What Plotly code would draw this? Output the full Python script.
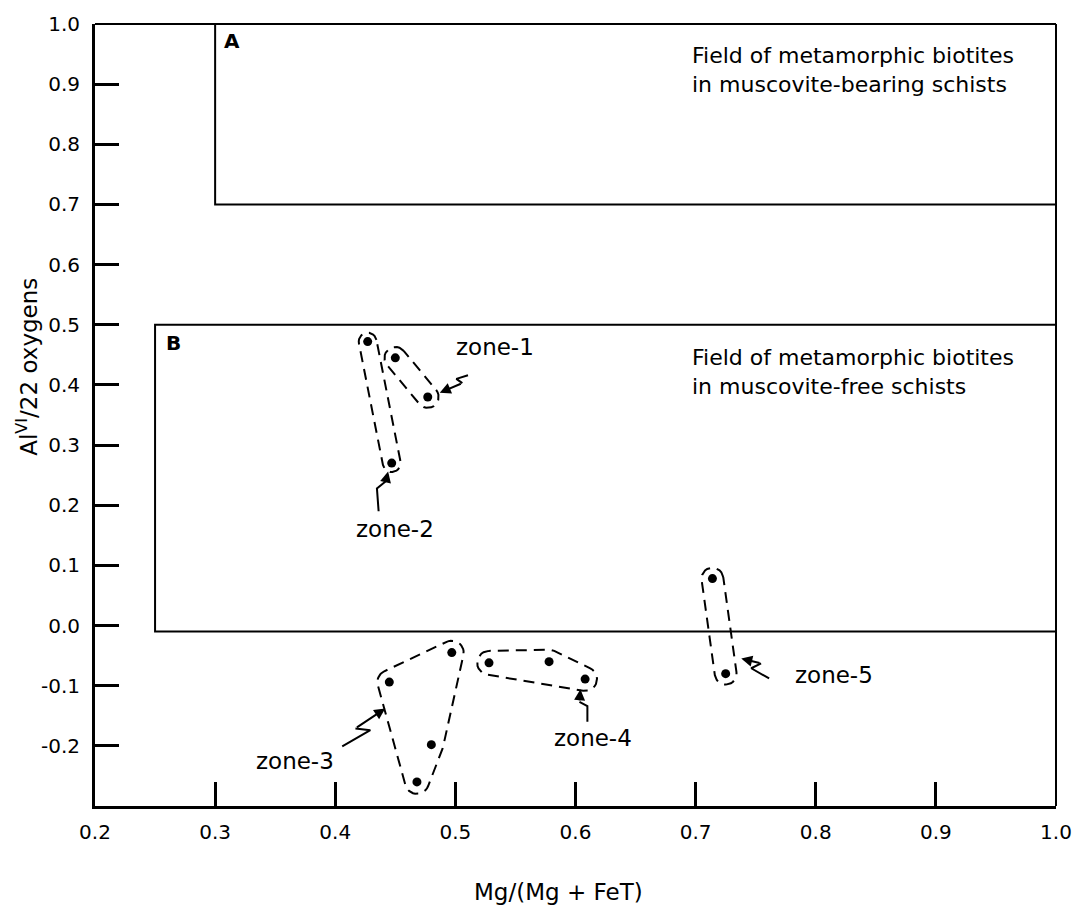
import numpy as np
import plotly.graph_objects as go

# ---------------- data ----------------
zone1_x = [0.450, 0.477]
zone1_y = [0.445, 0.380]
zone2_x = [0.427, 0.447]
zone2_y = [0.472, 0.270]
zone3_x = [0.445, 0.497, 0.480, 0.468]
zone3_y = [-0.094, -0.045, -0.198, -0.260]
zone4_x = [0.528, 0.578, 0.608]
zone4_y = [-0.062, -0.060, -0.089]
zone5_x = [0.714, 0.725]
zone5_y = [0.078, -0.080]

zone_names = ["zone-1", "zone-2", "zone-3", "zone-4", "zone-5"]

x_ticks = [0.2, 0.3, 0.4, 0.5, 0.6, 0.7, 0.8, 0.9, 1.0]
x_tick_labels = ["0.2", "0.3", "0.4", "0.5", "0.6", "0.7", "0.8", "0.9", "1.0"]
y_ticks = [-0.2, -0.1, 0.0, 0.1, 0.2, 0.3, 0.4, 0.5, 0.6, 0.7, 0.8, 0.9, 1.0]
y_tick_labels = ["-0.2", "-0.1", "0.0", "0.1", "0.2", "0.3", "0.4", "0.5",
                 "0.6", "0.7", "0.8", "0.9", "1.0"]

# fields (x0, x1, y0, y1)
field_A = (0.3, 1.0, 0.7, 1.0)
field_B = (0.25, 1.0, -0.01, 0.5)
field_A_text = "Field of metamorphic biotites<br>in muscovite-bearing schists"
field_B_text = "Field of metamorphic biotites<br>in muscovite-free schists"

# ---------------- layout constants ----------------
W, H = 1084, 906
ML, MR, MT, MB = 95, 20, 20, 100
XR = (0.2, 1.0)
YR = (-0.3, 1.0)
PW, PH = W - ML - MR, H - MT - MB
FONT = "DejaVu Sans"

def to_px(x, y):
    px = ML + (np.asarray(x) - XR[0]) / (XR[1] - XR[0]) * PW
    py = MT + (YR[1] - np.asarray(y)) / (YR[1] - YR[0]) * PH
    return px, py

def to_data(px, py):
    x = XR[0] + (np.asarray(px) - ML) / PW * (XR[1] - XR[0])
    y = YR[1] - (np.asarray(py) - MT) / PH * (YR[1] - YR[0])
    return x, y

def hull(pts):
    pts = sorted(map(tuple, pts))
    if len(pts) <= 2:
        return pts
    def cross(o, a, b):
        return (a[0]-o[0])*(b[1]-o[1]) - (a[1]-o[1])*(b[0]-o[0])
    lower, upper = [], []
    for p in pts:
        while len(lower) >= 2 and cross(lower[-2], lower[-1], p) <= 0:
            lower.pop()
        lower.append(p)
    for p in reversed(pts):
        while len(upper) >= 2 and cross(upper[-2], upper[-1], p) <= 0:
            upper.pop()
        upper.append(p)
    return lower[:-1] + upper[:-1]

def envelope(xs, ys, r):
    px, py = to_px(xs, ys)
    pts = list(zip(px, -py))          # y up for CCW orientation
    hv = hull(pts)
    n = len(hv)
    ox, oy = [], []
    for i in range(n):
        v = np.array(hv[i]); vp = np.array(hv[i-1]); vn = np.array(hv[(i+1) % n])
        dp = v - vp; dn = vn - v
        a1 = np.arctan2(-dp[0], dp[1])
        a2 = np.arctan2(-dn[0], dn[1])
        delta = (a2 - a1) % (2*np.pi)
        for t in np.linspace(0, delta, 14):
            ox.append(v[0] + r*np.cos(a1 + t))
            oy.append(v[1] + r*np.sin(a1 + t))
    ox.append(ox[0]); oy.append(oy[0])
    return to_data(np.array(ox), -np.array(oy))

fig = go.Figure()

# field boxes
for (x0, x1, y0, y1) in (field_A, field_B):
    fig.add_shape(type="rect", x0=x0, x1=x1, y0=y0, y1=y1, xref="x", yref="y",
                  line=dict(color="black", width=2), fillcolor="rgba(0,0,0,0)")

# thinner top / right frame lines
fig.add_shape(type="line", xref="paper", yref="paper", x0=0, x1=1, y0=1, y1=1,
              line=dict(color="black", width=2))
fig.add_shape(type="line", xref="paper", yref="paper", x0=1, x1=1, y0=0, y1=1,
              line=dict(color="black", width=2))

zones = [(zone1_x, zone1_y, 11), (zone2_x, zone2_y, 9), (zone3_x, zone3_y, 12),
         (zone4_x, zone4_y, 12), (zone5_x, zone5_y, 11)]

for (zx, zy, r), name in zip(zones, zone_names):
    ex, ey = envelope(zx, zy, r)
    fig.add_trace(go.Scatter(x=ex, y=ey, mode="lines", hoverinfo="skip",
                             line=dict(color="black", width=2, dash="11px,7px"),
                             showlegend=False))
    fig.add_trace(go.Scatter(x=zx, y=zy, mode="markers", name=name,
                             marker=dict(color="black", size=9), showlegend=False))

# lightning arrows: tail, kink A, kink B, head
arrows = [
    [(0.5105, 0.416), (0.5008, 0.410), (0.5058, 0.403), (0.4870, 0.387)],
    [(0.4361, 0.190), (0.4347, 0.228), (0.4421, 0.240), (0.4440, 0.256)],
    [(0.4058, -0.201), (0.4292, -0.174), (0.4168, -0.171), (0.4416, -0.138)],
    [(0.6099, -0.160), (0.6099, -0.134), (0.6033, -0.127), (0.6041, -0.106)],
    [(0.7612, -0.088), (0.7463, -0.071), (0.7545, -0.063), (0.7380, -0.055)],
]
for a in arrows:
    fig.add_trace(go.Scatter(x=[p[0] for p in a[:3]], y=[p[1] for p in a[:3]],
                             mode="lines", line=dict(color="black", width=2),
                             hoverinfo="skip", showlegend=False))
    fig.add_annotation(x=a[3][0], y=a[3][1], ax=a[2][0], ay=a[2][1],
                       xref="x", yref="y", axref="x", ayref="y", text="",
                       showarrow=True, arrowhead=2, arrowsize=1.1,
                       arrowwidth=2, arrowcolor="black", standoff=0)

# zone labels
label_pos = [(0.5331, 0.463), (0.4496, 0.160), (0.3661, -0.226),
             (0.6149, -0.187), (0.8149, -0.083)]
for name, (lx, ly) in zip(zone_names, label_pos):
    fig.add_annotation(x=lx, y=ly, text=name, showarrow=False,
                       font=dict(family=FONT, size=23, color="black"),
                       xanchor="center", yanchor="middle")

# field letters and texts
fig.add_annotation(x=0.314, y=0.971, text="<b>A</b>", showarrow=False,
                   font=dict(family=FONT, size=20, color="black"))
fig.add_annotation(x=0.265, y=0.469, text="<b>B</b>", showarrow=False,
                   font=dict(family=FONT, size=20, color="black"))
fig.add_annotation(x=0.8314, y=0.924, text=field_A_text, showarrow=False, align="left",
                   font=dict(family=FONT, size=22, color="black"),
                   xanchor="center", yanchor="middle")
fig.add_annotation(x=0.8314, y=0.421, text=field_B_text, showarrow=False, align="left",
                   font=dict(family=FONT, size=22, color="black"),
                   xanchor="center", yanchor="middle")

# axis titles
fig.add_annotation(xref="paper", yref="paper", x=(27 - ML) / PW, y=(H - MB - 365) / PH,
                   text="Al<sup>VI</sup>/22 oxygens", textangle=-90, showarrow=False,
                   font=dict(family=FONT, size=23, color="black"),
                   xanchor="center", yanchor="middle")
fig.add_annotation(xref="paper", yref="paper", x=(562 - ML) / PW, y=-(892 - (H - MB)) / PH,
                   text="Mg/(Mg + FeT)", showarrow=False,
                   font=dict(family=FONT, size=23, color="black"),
                   xanchor="center", yanchor="middle")

axis_common = dict(showgrid=False, zeroline=False, showline=True, linecolor="black",
                   linewidth=3, mirror=False, ticks="inside", ticklen=24, tickwidth=2.5,
                   tickcolor="black", tickfont=dict(family=FONT, size=20, color="black"))
fig.update_xaxes(range=list(XR), tickvals=x_ticks, ticktext=x_tick_labels,
                 ticklabelstandoff=6, **axis_common)
fig.update_yaxes(range=list(YR), tickvals=y_ticks, ticktext=y_tick_labels,
                 ticklabelstandoff=8, **axis_common)

fig.update_layout(width=W, height=H, margin=dict(l=ML, r=MR, t=MT, b=MB),
                  paper_bgcolor="white", plot_bgcolor="white", showlegend=False)

fig.write_html("out.html")
